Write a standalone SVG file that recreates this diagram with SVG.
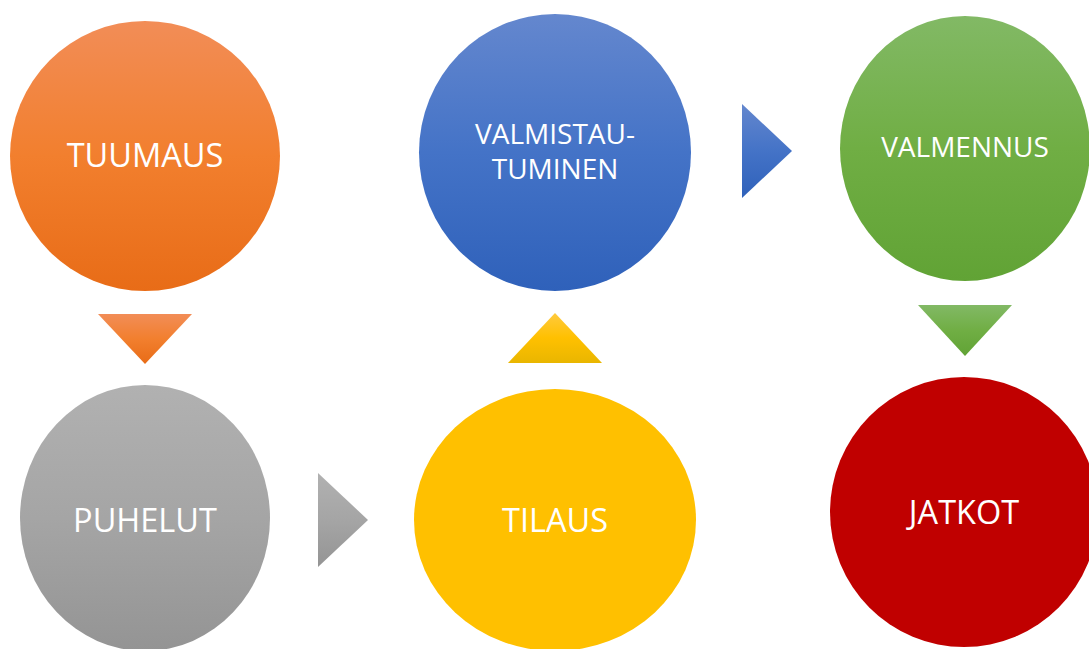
<svg xmlns="http://www.w3.org/2000/svg" width="1089" height="649" viewBox="0 0 1089 649">
<defs>
<linearGradient id="gOrange" x1="0" y1="0" x2="0" y2="1"><stop offset="0" stop-color="#F28D57"/><stop offset="0.5" stop-color="#F27F2E"/><stop offset="1" stop-color="#E86C17"/></linearGradient>
<linearGradient id="gBlue" x1="0" y1="0" x2="0" y2="1"><stop offset="0" stop-color="#6487CE"/><stop offset="0.5" stop-color="#4473C7"/><stop offset="1" stop-color="#2F61BA"/></linearGradient>
<linearGradient id="gGreen" x1="0" y1="0" x2="0" y2="1"><stop offset="0" stop-color="#82B965"/><stop offset="0.5" stop-color="#70AE44"/><stop offset="1" stop-color="#61A335"/></linearGradient>
<linearGradient id="gGray" x1="0" y1="0" x2="0" y2="1"><stop offset="0" stop-color="#B1B1B1"/><stop offset="0.5" stop-color="#A5A5A5"/><stop offset="1" stop-color="#949494"/></linearGradient>
<linearGradient id="gYellowTri" x1="0" y1="0" x2="0" y2="1"><stop offset="0" stop-color="#FFCA3E"/><stop offset="0.5" stop-color="#FFC000"/><stop offset="1" stop-color="#E9B600"/></linearGradient>
</defs>
<style>
.lbl{font-family:"Open Sans","Liberation Sans",sans-serif;fill:#FFFFFF;text-anchor:middle}
.big{font-size:32.5px}
.small{font-size:28px}
</style>
<rect width="1089" height="649" fill="#FFFFFF"/>
<g id="connectors">
<polygon points="98,314 192,314 145,364" fill="url(#gOrange)"/>
<polygon points="318,473 368,520 318,567" fill="url(#gGray)"/>
<polygon points="508,363 602,363 555,313" fill="url(#gYellowTri)"/>
<polygon points="742,104 792,151 742,198" fill="url(#gBlue)"/>
<polygon points="918,305 1012,305 965,356" fill="url(#gGreen)"/>
</g>
<g id="node-tuumaus">
<ellipse cx="145" cy="156" rx="135" ry="135" fill="url(#gOrange)"/>
<text class="lbl big" x="145" y="167">TUUMAUS</text>
</g>
<g id="node-puhelut">
<ellipse cx="145" cy="518" rx="125" ry="133" fill="url(#gGray)"/>
<text class="lbl big" x="145" y="532">PUHELUT</text>
</g>
<g id="node-tilaus">
<ellipse cx="555" cy="520" rx="141" ry="131" fill="#FFC000"/>
<text class="lbl big" x="555" y="532">TILAUS</text>
</g>
<g id="node-valmistautuminen">
<ellipse cx="555" cy="152.5" rx="136" ry="138.5" fill="url(#gBlue)"/>
<text class="lbl small" x="555" y="144">VALMISTAU-</text>
<text class="lbl small" x="555" y="179">TUMINEN</text>
</g>
<g id="node-valmennus">
<ellipse cx="965" cy="148.5" rx="125" ry="132.5" fill="url(#gGreen)"/>
<text class="lbl small" x="965" y="157">VALMENNUS</text>
</g>
<g id="node-jatkot">
<ellipse cx="964" cy="512" rx="134" ry="135" fill="#C00000"/>
<text class="lbl big" x="964" y="524">JATKOT</text>
</g>
</svg>
